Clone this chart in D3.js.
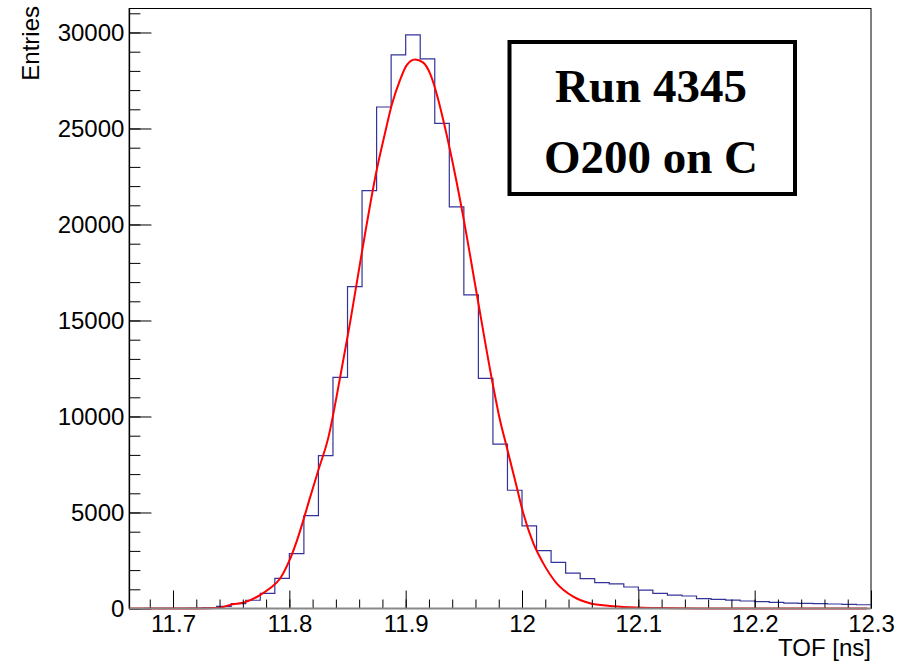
<!DOCTYPE html>
<html>
<head>
<meta charset="utf-8">
<script src="https://cdn.jsdelivr.net/npm/d3@7"></script>
<style>
  body { margin: 0; background: #fff; }
  svg { display: block; }
</style>
</head>
<body>
<svg id="plot" width="907" height="664"></svg>
<script>
// histogram: 51 bins of 0.0125 ns starting at 11.6625
const binLow = 11.6625;
const binWidth = 0.0125;
const counts = [0, 2, 5, 10, 20, 45, 110, 250, 430, 790,
    1570, 2860, 4840, 7960, 12040, 16760, 21760, 26120, 28830, 29880,
    28630, 25270, 20920, 16330, 11990, 8560, 6160, 4300, 3010, 2400,
    1840, 1560, 1350, 1280, 1120, 960, 790, 700, 650, 510,
    480, 440, 390, 355, 320, 275, 265, 250, 235, 215, 195];

// fit curve
const fitX = [11.663, 11.7232, 11.7404, 11.749, 11.7619, 11.7748, 11.7833, 11.7919, 11.7997, 11.8063,
    11.8179, 11.8249, 11.8335, 11.8435, 11.8521, 11.8622, 11.8751, 11.8822, 11.888, 11.8951,
    11.9009, 11.908, 11.9151, 11.9209, 11.928, 11.9323, 11.9381, 11.9495, 11.961, 11.9753,
    11.9811, 11.9868, 11.9954, 12.0011, 12.0097, 12.0183, 12.0298, 12.0441, 12.0584, 12.0756,
    12.0928, 12.1186, 12.153, 12.2966];
const fitY = [0, 5, 40, 190, 330, 700, 1050, 1550, 2450, 3500,
    5800, 7200, 8900, 11990, 14850, 18500, 22840, 24750, 26220, 27520,
    28300, 28600, 28430, 27870, 26500, 25440, 23880, 20400, 16420, 11550,
    9800, 8430, 6340, 4960, 3400, 2350, 1310, 615, 271, 130,
    62, 20, 5, 0];

const xTicks = [11.7, 11.8, 11.9, 12, 12.1, 12.2, 12.3];
const yTicks = [0, 5000, 10000, 15000, 20000, 25000, 30000];

const xTitle = "TOF [ns]";
const yTitle = "Entries";
const boxLines = ["Run 4345", "O200 on C"];

const padLeft = 129.4, padRight = 871, padTop = 8, padBottom = 608.5;

const svg = d3.select('#plot');

var xScale = d3.scaleLinear()
    .domain([binLow, binLow + counts.length * binWidth])
    .range([padLeft, padRight]);

var yScale = d3.scaleLinear()
    .domain([0, 31276])
    .range([padBottom, padTop]);

// frame
svg.append('rect')
    .attr('x', padLeft).attr('y', padTop + 0.5)
    .attr('width', padRight - padLeft).attr('height', padBottom - padTop - 0.5)
    .attr('fill', 'none').attr('stroke', '#000').attr('stroke-width', 1);

// histogram as steps
const histPts = counts.map((c, i) => [binLow + i * binWidth, c]);
histPts.push([binLow + counts.length * binWidth, counts[counts.length - 1]]);

var histLine = d3.line()
    .x(d => xScale(d[0]))
    .y(d => yScale(d[1]))
    .curve(d3.curveStepAfter);

svg.append('path')
    .datum(histPts)
    .attr('d', histLine)
    .attr('fill', 'none')
    .attr('stroke', '#333399')
    .attr('stroke-width', 1.2);

// fit
var fitLine = d3.line()
    .x((d, i) => xScale(fitX[i]))
    .y(d => yScale(d))
    .curve(d3.curveMonotoneX);

svg.append('path')
    .datum(fitY)
    .attr('d', fitLine)
    .attr('fill', 'none')
    .attr('stroke', '#ff0000')
    .attr('stroke-width', 2);

// axes
const font = "'Liberation Sans', Arial, sans-serif";
const fontSize = 24;

const yMinor = d3.range(0, 31001, 1000);
const xMinor = d3.range(0, 32).map(i => 11.68 + i * 0.02).filter(v => v < 12.299);

const gY = svg.append('g').attr('transform', 'translate(' + padLeft + ',0)');
gY.call(d3.axisLeft(yScale).tickValues(yMinor).tickFormat('').tickSizeInner(-11).tickSizeOuter(0));
gY.append('g').call(d3.axisLeft(yScale).tickValues(yTicks).tickFormat(d3.format('d')).tickSizeInner(-22).tickSizeOuter(0).tickPadding(5));
gY.selectAll('.domain').remove();
gY.selectAll('line').attr('stroke', '#000');
gY.selectAll('text').attr('font-family', font).attr('font-size', fontSize).attr('fill', '#000');
gY.append('line').attr('x1', 0).attr('x2', 0).attr('y1', padTop).attr('y2', padBottom).attr('stroke', '#000').attr('stroke-width', 1.5);

const gX = svg.append('g').attr('transform', 'translate(0,' + padBottom + ')');
gX.call(d3.axisBottom(xScale).tickValues(xMinor).tickFormat('').tickSizeInner(-9).tickSizeOuter(0));
gX.append('g').call(d3.axisBottom(xScale).tickValues(xTicks).tickFormat(d3.format('')).tickSizeInner(-18).tickSizeOuter(0).tickPadding(6));
gX.selectAll('.domain').remove();
gX.selectAll('line').attr('stroke', '#000');
gX.selectAll('text').attr('font-family', font).attr('font-size', fontSize).attr('fill', '#000');
gX.append('line').attr('x1', padLeft).attr('x2', padRight).attr('y1', 0).attr('y2', 0).attr('stroke', '#888').attr('stroke-width', 2);

// titles
svg.append('text')
    .attr('x', padRight).attr('y', 656)
    .attr('text-anchor', 'end')
    .attr('font-family', font).attr('font-size', fontSize)
    .text(xTitle);

svg.append('text')
    .attr('transform', 'translate(39,6) rotate(-90)')
    .attr('text-anchor', 'end')
    .attr('font-family', font).attr('font-size', fontSize)
    .text(yTitle);

// run box
svg.append('rect')
    .attr('x', 509.5).attr('y', 42)
    .attr('width', 285.5).attr('height', 152)
    .attr('fill', '#fff').attr('stroke', '#000').attr('stroke-width', 4);

boxLines.forEach((t, i) => {
    svg.append('text')
        .attr('x', 651).attr('y', 102 + i * 71)
        .attr('text-anchor', 'middle')
        .attr('font-family', "'Liberation Serif', 'Times New Roman', serif")
        .attr('font-weight', 'bold').attr('font-size', 47)
        .text(t);
});
</script>
</body>
</html>
